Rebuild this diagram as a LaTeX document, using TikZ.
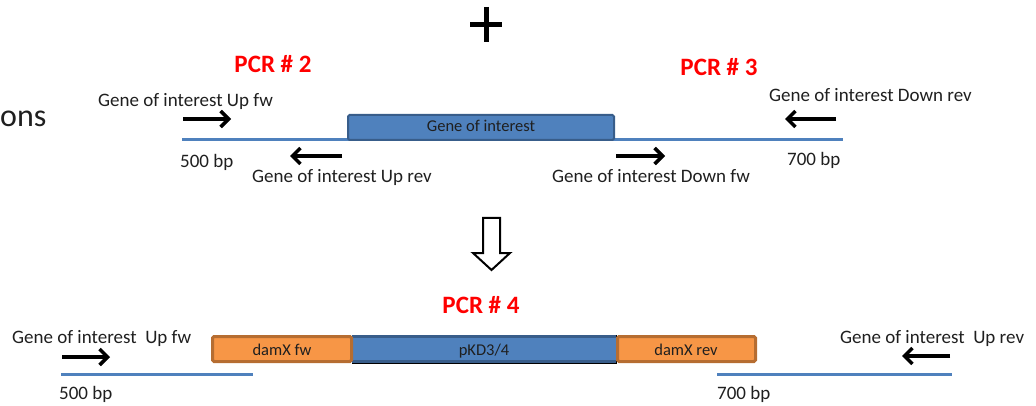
\documentclass[tikz,border=0pt]{standalone}
\usepackage{fontspec}
\setmainfont{Carlito}
\usetikzlibrary{arrows.meta}
\definecolor{dnablue}{HTML}{4F81BD}
\definecolor{dnaedge}{HTML}{385D8A}
\definecolor{damfill}{HTML}{F79646}
\definecolor{damedge}{HTML}{B66D31}
\definecolor{txt}{HTML}{1F1F1F}
\tikzset{
  lbl/.style={font=\fontsize{19}{21}\selectfont, text=txt, inner sep=0pt, anchor=base west},
  boxtxt/.style={font=\fontsize{16.5}{18}\selectfont, text=txt, inner sep=0pt, anchor=base},
  pcr/.style={font=\fontsize{25}{28}\selectfont\bfseries, text=red, inner sep=0pt, anchor=base},
  dna/.style={draw=dnablue, line width=3pt},
  primershadow/.style={draw=black!22, line width=3.5pt, shift={(1pt,2pt)},
    -{Straight Barb[length=8pt,width=16pt,line width=3.5pt]}},
  primer/.style={draw=black, line width=3.5pt,
    -{Straight Barb[length=8pt,width=16pt,line width=3.5pt]}},
  genebox/.style={draw=dnaedge, fill=dnablue, line width=2pt, rounded corners=1.5pt},
  dambox/.style={draw=damedge, fill=damfill, line width=3pt, rounded corners=1.5pt},
  pkdbox/.style={fill=dnablue},
}
\begin{document}
\begin{tikzpicture}[x=1pt,y=-1pt]
\useasboundingbox (0,0) rectangle (1036,406);

% clipped title fragment
\node[font=\fontsize{32}{36}\selectfont, text=txt, inner sep=0pt, anchor=base west] (ons) at (0,127) {ons};

% plus sign
\coordinate (pl) at (470,25); \coordinate (pr) at (502,25);
\coordinate (pt) at (486,7);  \coordinate (pb) at (486,42);
\draw[line width=5pt, black] (pl) -- (pr);
\draw[line width=5pt, black] (pt) -- (pb);

% ---------- top construct ----------
\node[pcr] (pcr2) at (273,73) {PCR \# 2};
\node[pcr] (pcr3) at (719,76) {PCR \# 3};

\coordinate (topL) at (182,139.5);
\coordinate (topR) at (843,139.5);
\draw[dna] (topL) -- (topR);
\draw[genebox] (348,140) rectangle (614,115);
\node[boxtxt] (goitxt) at (481,132) {Gene of interest};

% primers
\node[lbl] (upfw) at (98,107) {Gene of interest Up fw};
\coordinate (a1s) at (183,119); \coordinate (a1e) at (231,119);
\draw[primershadow] (a1s) -- (a1e);
\draw[primer] (a1s) -- (a1e);

\node[lbl] (uprev) at (252,183) {Gene of interest Up rev};
\coordinate (a2s) at (342,156); \coordinate (a2e) at (290,156);
\draw[primershadow] (a2s) -- (a2e);
\draw[primer] (a2s) -- (a2e);

\node[lbl] (bp500) at (180,168) {500 bp};

\node[lbl] (dnrev) at (769,102) {Gene of interest Down rev};
\coordinate (a3s) at (836,119); \coordinate (a3e) at (785,119);
\draw[primershadow] (a3s) -- (a3e);
\draw[primer] (a3s) -- (a3e);

\node[lbl] (dnfw) at (552,183) {Gene of interest Down fw};
\coordinate (a4s) at (616,156); \coordinate (a4e) at (665,156);
\draw[primershadow] (a4s) -- (a4e);
\draw[primer] (a4s) -- (a4e);

\node[lbl] (bp700) at (787,166) {700 bp};

% ---------- hollow down arrow ----------
\draw[line width=2pt, black, fill=white, line join=miter]
  (483,218) -- (500,218) -- (500,253) -- (510,253) -- (491.5,270)
  -- (473,253) -- (483,253) -- cycle;

% ---------- bottom construct ----------
\node[pcr] (pcr4) at (481,313) {PCR \# 4};

\draw[pkdbox] (352,335) rectangle (616,363);
\draw[draw=dnaedge, line width=3pt] (352,336.5) -- (616,336.5);
\draw[draw=dnaedge, line width=3pt] (352,361.5) -- (616,361.5);
\node[boxtxt] (pkd) at (484,355) {pKD3/4};

\draw[dambox] (212.5,336.5) rectangle (351.5,361.5);
\node[boxtxt] (damfw) at (282,355) {damX fw};
\draw[dambox] (617.5,336.5) rectangle (755.5,361.5);
\node[boxtxt] (damrev) at (686,355) {damX rev};

\node[lbl] (bupfw) at (12,343) {Gene of interest~ Up fw};
\coordinate (b1s) at (62,357); \coordinate (b1e) at (110,357);
\draw[primershadow] (b1s) -- (b1e);
\draw[primer] (b1s) -- (b1e);
\coordinate (bL1) at (61,374); \coordinate (bL2) at (253,374);
\draw[dna] (bL1) -- (bL2);
\node[lbl] (b500) at (59,399) {500 bp};

\node[lbl] (buprev) at (840,343) {Gene of interest~ Up rev};
\coordinate (b2s) at (950,356); \coordinate (b2e) at (902,356);
\draw[primershadow] (b2s) -- (b2e);
\draw[primer] (b2s) -- (b2e);
\coordinate (bR1) at (717,374); \coordinate (bR2) at (952,374);
\draw[dna] (bR1) -- (bR2);
\node[lbl] (b700) at (717,399) {700 bp};
\end{tikzpicture}
\end{document}
